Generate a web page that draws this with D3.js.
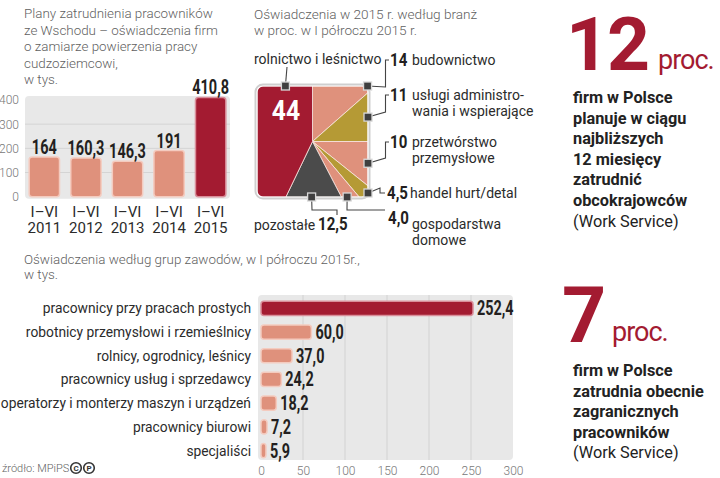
<!DOCTYPE html>
<html>
<head>
<meta charset="utf-8">
<script src="https://cdn.jsdelivr.net/npm/d3@7"></script>
<style>
  body { margin: 0; background: #fff; }
  svg text { font-family: Roboto, "Open Sans", sans-serif; }
  .light { font-weight: 300; fill: #5f5f5f; }
  .num { font-weight: bold; fill: #231f20; }
  .lab { fill: #2b2b2b; }
</style>
</head>
<body>
<script>
// top-left chart: declarations per half-year
var yearLabels = ["2011", "2012", "2013", "2014", "2015"];
var yearValues = [164, 160.3, 146.3, 191, 410.8];
var yearTicks = [0, 100, 200, 300, 400];

// square "pie": sectors, clockwise from the top
var sectorNames = ["budownictwo", "usługi administrowania i wspierające", "przetwórstwo przemysłowe",
  "handel hurt/detal", "gospodarstwa domowe", "pozostałe", "rolnictwo i leśnictwo"];
var sectorValues = [14, 11, 10, 4.5, 4.0, 12.5, 44];

// bottom chart: occupation groups
var jobGroups = ["pracownicy przy pracach prostych", "robotnicy przemysłowi i rzemieślnicy",
  "rolnicy, ogrodnicy, leśnicy", "pracownicy usług i sprzedawcy",
  "operatorzy i monterzy maszyn i urządzeń", "pracownicy biurowi", "specjaliści"];
var jobValues = [252.4, 60.0, 37.0, 24.2, 18.2, 7.2, 5.9];
var jobTicks = [0, 50, 100, 150, 200, 250, 300];

var RED = "#a31b31", SALMON = "#df917c", GOLD = "#b59a35", DARK = "#4b4b4b", BG = "#e8e8e8";

var svg = d3.select("body").append("svg")
    .attr("width", 720)
    .attr("height", 478);

// comma decimals
function fmt(v, always) {
    var s = (always || !Number.isInteger(v) || v < 10) ? d3.format(".1f")(v) : d3.format("d")(v);
    return s.replace(".", ",");
}

// squeeze bold numbers horizontally (no condensed font installed)
function condense(sel, ratio, centred) {
    sel.each(function () {
        var t = d3.select(this);
        var w = this.getComputedTextLength() * ratio;
        t.attr("textLength", w).attr("lengthAdjust", "spacingAndGlyphs");
        if (centred) t.attr("x", +t.attr("x") - w / 2);
    });
}

function lines(sel, arr, x, y0, dy, size) {
    arr.forEach(function (t, i) {
        sel.append("text").attr("class", "light").attr("x", x).attr("y", y0 + i * dy)
            .attr("font-size", size + "px").text(t);
    });
}

// ---------- top-left bar chart ----------
var g1 = svg.append("g");
lines(g1, ["Plany zatrudnienia pracowników", "ze Wschodu – oświadczenia firm",
    "o zamiarze powierzenia pracy", "cudzoziemcowi,", "w tys."], 24, 18, 16.6, 13.4);

var x1 = d3.scaleBand().domain(yearLabels).range([25, 230]).paddingInner(0.27).paddingOuter(0.1);
var y1 = d3.scaleLinear().domain([0, 400]).range([196.7, 100]);

g1.append("rect")
    .attr("x", 25).attr("y", y1(400) - 4)
    .attr("width", 205).attr("height", y1(0) - y1(400) + 6)
    .attr("rx", 4).attr("fill", BG);

g1.selectAll(".grid1").data(yearTicks.slice(1, -1)).enter().append("line")
    .attr("x1", 25).attr("x2", 230)
    .attr("y1", d => y1(d)).attr("y2", d => y1(d))
    .attr("stroke", "#d4d4d4").attr("stroke-width", 1);

var yAxis1 = g1.append("g")
    .attr("transform", "translate(20,0)")
    .call(d3.axisLeft(y1).tickValues(yearTicks).tickSize(0).tickPadding(1));
yAxis1.select(".domain").remove();
yAxis1.selectAll("text").attr("font-size", "12px").attr("fill", "#777").attr("font-weight", 300)
    .attr("font-family", "Roboto, sans-serif");

g1.selectAll(".bar1").data(yearValues).enter().append("rect")
    .attr("x", (d, i) => x1(yearLabels[i]))
    .attr("y", d => y1(d))
    .attr("width", x1.bandwidth())
    .attr("height", d => y1(0) - y1(d))
    .attr("rx", 3)
    .attr("fill", (d, i) => i === yearValues.length - 1 ? RED : SALMON)
    .attr("stroke", (d, i) => i === yearValues.length - 1 ? "#d98e9a" : "#f4cbbf")
    .attr("stroke-width", 1.5);

g1.selectAll(".val1").data(yearValues).enter().append("text")
    .attr("class", "num")
    .attr("x", (d, i) => x1(yearLabels[i]) + x1.bandwidth() / 2)
    .attr("y", d => y1(d) - 3)
    .attr("font-size", "21px")
    .text(d => fmt(d))
    .call(condense, 0.69, true);

var xl = g1.selectAll(".xl1").data(yearLabels).enter().append("text")
    .attr("class", "lab")
    .attr("text-anchor", "middle")
    .attr("font-size", "15px");
xl.append("tspan").attr("x", d => x1(d) + x1.bandwidth() / 2).attr("y", 217).text("I–VI");
xl.append("tspan").attr("x", d => x1(d) + x1.bandwidth() / 2).attr("y", 233).text(d => d);

// ---------- square pie ----------
var g2 = svg.append("g");
lines(g2, ["Oświadczenia w 2015 r.  według branż", "w proc. w I półroczu 2015 r."], 254, 19, 15.5, 13.6);

var sq = { left: 257, top: 86, side: 111 };
var half = sq.side / 2;
var cx = sq.left + half, cy = sq.top + half;
var perim = d3.scaleLinear().domain([0, 100]).range([0, 4 * sq.side]);

// point on the square's edge, t measured clockwise from the top centre
function edgePoint(t) {
    var s = sq.side;
    if (t <= half) return [cx + t, sq.top];
    if (t <= half + s) return [sq.left + s, sq.top + (t - half)];
    if (t <= half + 2 * s) return [sq.left + s - (t - half - s), sq.top + s];
    if (t <= half + 3 * s) return [sq.left, sq.top + s - (t - half - 2 * s)];
    return [sq.left + (t - half - 3 * s), sq.top];
}
var corners = [half, half + sq.side, half + 2 * sq.side, half + 3 * sq.side];

var cum = d3.cumsum(sectorValues);
var slices = sectorValues.map(function (v, i) {
    var a = perim(cum[i] - v), b = perim(cum[i]);
    var pts = [[cx, cy], edgePoint(a)];
    corners.forEach(function (c) { if (c > a && c < b) pts.push(edgePoint(c)); });
    pts.push(edgePoint(b));
    return { pts: pts, i: i };
});
var sliceColors = [SALMON, GOLD, SALMON, GOLD, SALMON, DARK, RED];

svg.append("defs").append("clipPath").attr("id", "sqclip")
    .append("rect").attr("x", sq.left).attr("y", sq.top)
    .attr("width", sq.side).attr("height", sq.side).attr("rx", 6);

g2.append("rect").attr("x", sq.left - 1).attr("y", sq.top - 1)
    .attr("width", sq.side + 2).attr("height", sq.side + 2).attr("rx", 7)
    .attr("fill", "none").attr("stroke", "#cfcfcf").attr("stroke-width", 3);

g2.append("g").attr("clip-path", "url(#sqclip)")
    .selectAll("path").data(slices).enter().append("path")
    .attr("d", d => "M" + d.pts.join("L") + "Z")
    .attr("fill", d => sliceColors[d.i])
    .attr("stroke", "#f7e6df").attr("stroke-width", 0.8);

g2.append("rect").attr("x", sq.left).attr("y", sq.top)
    .attr("width", sq.side).attr("height", sq.side).attr("rx", 6)
    .attr("fill", "none").attr("stroke", "#fff").attr("stroke-width", 1.2);

g2.append("text").attr("class", "num")
    .attr("x", 286).attr("y", 120)
    .attr("font-size", "28px").style("fill", "#fff")
    .text(fmt(sectorValues[6]))
    .call(condense, 0.88, true);

// leaders: marker on the edge (perimeter percent) + polyline to label
var marks = [
    { i: 0, at: 12.4, path: [[385.5, 87], [385.5, 60], [389, 60]] },
    { i: 1, at: 19.5, path: [[385.5, 112], [385.5, 95], [389, 95]] },
    { i: 2, at: 29.9, path: [[385.5, 158], [385.5, 142], [389, 142]] },
    { i: 3, at: 36.6, path: [[380, 188], [380, 193], [385, 193]] },
    { i: 4, at: 42.2, path: [[347, 210], [385, 210]] },
    { i: 5, at: 50.2, path: [[312, 210], [337, 210], [337, 215]] },
    { i: 6, at: 93.9, path: [[287, 67]] }
];
marks.forEach(function (m) {
    var p = edgePoint(perim(m.at));
    g2.append("polyline")
        .attr("points", [p].concat(m.path).join(" "))
        .attr("fill", "none").attr("stroke", "#444").attr("stroke-width", 1.1);
});
marks.forEach(function (m) {
    var p = edgePoint(perim(m.at));
    g2.append("rect").attr("x", p[0] - 4).attr("y", p[1] - 4)
        .attr("width", 8).attr("height", 8)
        .attr("fill", "#3f3f3f").attr("stroke", "#d8d8d8").attr("stroke-width", 1.3);
});

function pieNum(v, x, y) {
    g2.append("text").attr("class", "num").attr("x", x).attr("y", y)
        .attr("font-size", "17.5px").text(fmt(v))
        .call(condense, 0.86, false);
}
function pieText(textLines, x, y) {
    textLines.forEach(function (t, k) {
        g2.append("text").attr("class", "lab").attr("x", x).attr("y", y + k * 15.5)
            .attr("font-size", "14px").text(t);
    });
}
pieNum(sectorValues[0], 390, 66); pieText(["budownictwo"], 412, 65);
pieNum(sectorValues[1], 390, 101); pieText(["usługi administro-", "wania i wspierające"], 412, 100);
pieNum(sectorValues[2], 390, 148); pieText(["przetwórstwo", "przemysłowe"], 412, 147);
pieNum(sectorValues[3], 387, 199); pieText(["handel hurt/detal"], 410, 198);
pieNum(sectorValues[4], 388, 224); pieText(["gospodarstwa", "domowe"], 412, 229);
pieText([sectorNames[6]], 254, 64);
pieText([sectorNames[5]], 254, 230);
pieNum(sectorValues[5], 318, 230);

// ---------- bottom bar chart ----------
var g3 = svg.append("g");
lines(g3, ["Oświadczenia według grup zawodów, w I półroczu 2015r.,", "w tys."], 24, 264, 15, 13.4);

var x2 = d3.scaleLinear().domain([0, 300]).range([261, 513]);
var y2 = d3.scaleBand().domain(jobGroups).range([296.5, 462.4]).paddingInner(0.4).paddingOuter(0.2);

g3.append("rect")
    .attr("x", x2(0) - 3).attr("y", 295)
    .attr("width", x2(300) - x2(0) + 3).attr("height", 165)
    .attr("rx", 4).attr("fill", BG);

g3.selectAll(".grid2").data(jobTicks.slice(1, -1)).enter().append("line")
    .attr("x1", d => x2(d)).attr("x2", d => x2(d))
    .attr("y1", 295).attr("y2", 460)
    .attr("stroke", "#d2d2d2").attr("stroke-width", 1);

var xAxis2 = g3.append("g")
    .attr("transform", "translate(0,462)")
    .call(d3.axisBottom(x2).tickValues(jobTicks).tickSize(0).tickPadding(4));
xAxis2.select(".domain").remove();
xAxis2.selectAll("text").attr("font-size", "12px").attr("fill", "#777").attr("font-weight", 300)
    .attr("font-family", "Roboto, sans-serif");

g3.selectAll(".bar2").data(jobValues).enter().append("rect")
    .attr("x", x2(0))
    .attr("y", (d, i) => y2(jobGroups[i]))
    .attr("width", d => x2(d) - x2(0))
    .attr("height", y2.bandwidth())
    .attr("rx", 3)
    .attr("fill", (d, i) => i === 0 ? RED : SALMON)
    .attr("stroke", (d, i) => i === 0 ? "#d98e9a" : "#f4cbbf")
    .attr("stroke-width", 1.5);

g3.selectAll(".val2").data(jobValues).enter().append("text")
    .attr("class", "num")
    .attr("x", d => x2(d) + 4)
    .attr("y", (d, i) => y2(jobGroups[i]) + y2.bandwidth() / 2 + 7)
    .attr("font-size", "20px")
    .text(d => fmt(d, true))
    .call(condense, 0.72, false);

g3.selectAll(".cat2").data(jobGroups).enter().append("text")
    .attr("class", "lab")
    .attr("x", 251)
    .attr("y", d => y2(d) + y2.bandwidth() / 2 + 5)
    .attr("text-anchor", "end")
    .attr("font-size", "13.8px")
    .text(d => d);

// source
var g4 = svg.append("g");
g4.append("text").attr("class", "light").attr("x", 2).attr("y", 472).attr("font-size", "11px").text("źródło: MPiPS");
[["C", 76], ["P", 89]].forEach(function (c) {
    g4.append("circle").attr("cx", c[1]).attr("cy", 468).attr("r", 5.3)
        .attr("fill", "none").attr("stroke", "#333").attr("stroke-width", 1.6);
    g4.append("text").attr("x", c[1]).attr("y", 471).attr("text-anchor", "middle")
        .attr("font-size", "8px").attr("font-weight", "bold").attr("fill", "#333").text(c[0]);
});

// ---------- right-hand facts ----------
var g5 = svg.append("g");
function fact(big, x, yBig, bigSize, procX, textY, txt) {
    g5.append("text").attr("x", x).attr("y", yBig).attr("font-size", bigSize + "px")
        .attr("font-weight", "bold").attr("fill", RED).attr("letter-spacing", -2).text(big);
    g5.append("text").attr("x", procX).attr("y", yBig - 1).attr("font-size", "27px")
        .attr("font-weight", 400).attr("fill", RED).attr("letter-spacing", -1).text("proc.");
    txt.forEach(function (t, k) {
        g5.append("text").attr("x", 573).attr("y", textY + k * 20.6)
            .attr("font-size", "16.3px").attr("fill", "#222")
            .attr("font-weight", k === txt.length - 1 ? 400 : "bold")
            .text(t);
    });
}
fact("12", 566, 70, 75, 658, 103, ["firm w Polsce", "planuje w ciągu", "najbliższych",
    "12 miesięcy", "zatrudnić", "obcokrajowców", "(Work Service)"]);
fact("7", 562, 342, 77, 612, 376, ["firm w Polsce", "zatrudnia obecnie", "zagranicznych",
    "pracowników", "(Work Service)"]);
</script>
</body>
</html>
